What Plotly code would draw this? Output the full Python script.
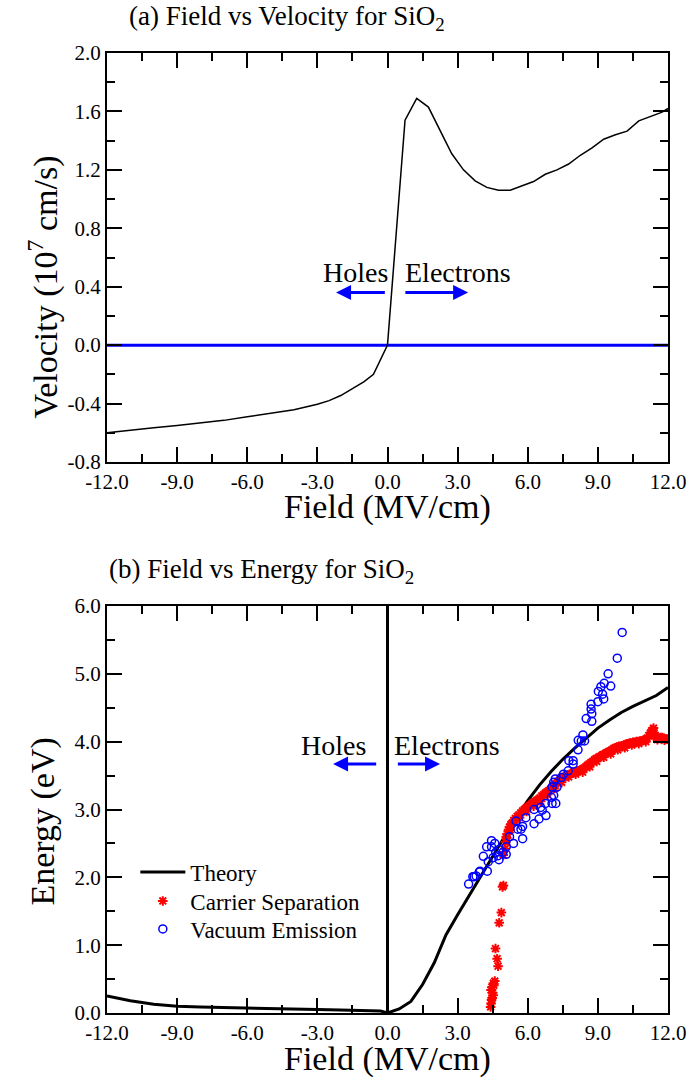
import plotly.graph_objects as go

# ---------------- data ----------------
# (a) velocity vs field
vel_field = [-12.0, -11.5, -11.0, -10.5, -10.0, -9.0, -8.0, -7.0, -6.0, -5.0, -4.0, -3.0, -2.5, -2.0,
             -1.5, -1.0, -0.6, -0.3, 0.0, 0.75, 1.25, 1.75, 2.25, 2.75, 3.25, 3.75, 4.25, 4.75, 5.25,
             5.75, 6.25, 6.75, 7.25, 7.75, 8.25, 8.75, 9.25, 9.75, 10.25, 10.75, 11.25, 11.75, 12.0]
vel_value = [-0.60, -0.59, -0.58, -0.575, -0.565, -0.55, -0.535, -0.515, -0.49, -0.468, -0.443, -0.405, -0.38, -0.345,
             -0.30, -0.25, -0.20, -0.10, 0.0, 1.54, 1.69, 1.63, 1.47, 1.31, 1.20, 1.125, 1.08, 1.06, 1.06,
             1.09, 1.12, 1.17, 1.20, 1.24, 1.30, 1.35, 1.41, 1.44, 1.465, 1.535, 1.565, 1.595, 1.62]
zero_field = [-12.0, 12.0]
zero_value = [0.0, 0.0]

# (b) energy vs field : theory
th_field = [-12, -11, -10, -9, -8, -7, -6, -5, -4, -3, -2, -1, -0.3, 0, 0.5, 1.0, 1.5, 2.0, 2.5, 3.0,
            3.5, 4.0, 4.5, 5.0, 5.5, 6.0, 6.5, 7.0, 7.5, 8.0, 8.5, 9.0, 9.5, 10.0, 10.5, 11.0, 11.5, 12.0]
th_energy = [0.25, 0.18, 0.13, 0.10, 0.09, 0.08, 0.07, 0.065, 0.06, 0.05, 0.045, 0.04, 0.03, 0.0, 0.06, 0.17,
             0.42, 0.74, 1.15, 1.45, 1.74, 2.02, 2.31, 2.6, 2.88, 3.13, 3.36, 3.56, 3.74, 3.9, 4.05, 4.2,
             4.32, 4.43, 4.52, 4.6, 4.68, 4.8]
divider_field = [0.0, 0.0]
divider_energy = [0.0, 6.0]

# carrier separation (red asterisks)
cs_field = [4.41, 4.45, 4.43, 4.52, 4.48, 4.43, 4.50, 4.55, 4.47, 4.53, 4.59, 4.73, 4.69, 4.62, 4.78, 4.87,
            4.92, 4.96,
            4.95, 5.02, 5.05, 5.08, 5.12, 5.18, 5.22, 5.28, 5.33, 5.40, 5.47, 5.55, 5.62, 5.70, 5.78, 5.85,
            5.92, 6.00, 6.08, 6.15, 6.22, 6.30, 6.38, 6.45, 6.52, 6.60, 6.68, 6.75, 6.82, 6.90, 6.98, 7.05,
            7.12, 7.20, 7.28, 7.35, 7.42, 7.50, 7.58, 7.65, 7.72, 7.80, 7.88, 7.95, 8.02, 8.10, 8.18, 8.25,
            8.32, 8.40, 8.48, 8.55, 8.62, 8.70, 8.78, 8.85, 8.92, 9.00, 9.08, 9.15, 9.22, 9.30, 9.38, 9.45,
            9.52, 9.60, 9.68, 9.75, 9.82, 9.90, 9.98, 10.05, 10.12, 10.20, 10.28, 10.35, 10.42, 10.50, 10.58,
            10.65, 10.72, 10.80, 10.88, 10.95, 11.02, 11.10, 11.18, 11.25, 11.30, 11.35, 11.40, 11.45, 11.52,
            11.60, 11.68, 11.75, 11.82, 11.90, 11.97,
            5.10, 5.25, 5.45, 5.65, 5.95, 6.25, 6.55, 6.85, 7.15, 7.45, 7.75, 8.05, 8.35, 8.65, 8.95, 9.25,
            9.55, 9.85, 10.15, 10.45, 10.75, 11.05, 11.28, 11.38, 11.55, 11.85]
cs_energy = [0.09, 0.19, 0.14, 0.26, 0.22, 0.34, 0.30, 0.41, 0.38, 0.44, 0.47, 0.69, 0.80, 0.95, 1.33, 1.48,
             1.86, 1.88,
             2.33, 2.42, 2.52, 2.60, 2.64, 2.70, 2.74, 2.78, 2.80, 2.84, 2.87, 2.90, 2.92, 2.95, 2.98, 3.00,
             3.02, 3.04, 3.06, 3.08, 3.10, 3.12, 3.13, 3.15, 3.17, 3.20, 3.22, 3.24, 3.26, 3.28, 3.30, 3.33,
             3.36, 3.38, 3.40, 3.43, 3.45, 3.47, 3.48, 3.50, 3.51, 3.52, 3.53, 3.55, 3.55, 3.56, 3.57, 3.58,
             3.59, 3.61, 3.63, 3.65, 3.67, 3.69, 3.71, 3.73, 3.75, 3.76, 3.78, 3.79, 3.81, 3.82, 3.84, 3.85,
             3.86, 3.88, 3.90, 3.91, 3.92, 3.93, 3.93, 3.94, 3.95, 3.96, 3.97, 3.98, 3.98, 3.99, 3.99,
             4.00, 4.00, 4.01, 4.01, 4.02, 4.03, 4.05, 4.09, 4.13, 4.16, 4.17, 4.13, 4.09, 4.06,
             4.05, 4.06, 4.06, 4.05, 4.04, 4.04,
             2.58, 2.70, 2.82, 2.88, 2.97, 3.05, 3.12, 3.22, 3.31, 3.40, 3.48, 3.52, 3.55, 3.63, 3.71, 3.77,
             3.82, 3.88, 3.91, 3.95, 3.97, 4.00, 4.10, 4.20, 4.03, 4.02]

# vacuum emission (blue open circles)
ve_field = [10.04, 9.83, 9.44, 9.27, 9.13, 9.55, 9.02, 9.20, 9.25, 9.00, 8.71, 8.71, 8.74, 8.50, 8.74,
            8.16, 8.36, 8.43, 8.29, 8.15, 7.94, 7.76, 7.94, 7.73, 7.53, 7.43, 7.18, 7.11, 7.04, 7.25,
            7.11, 7.01, 7.04, 7.20, 6.76, 6.55, 6.27, 6.62, 6.78, 6.48, 6.27, 5.92, 5.78, 5.78, 5.71,
            5.50, 5.57, 5.39, 5.22, 5.08, 5.08, 4.94, 4.77, 4.77, 4.63, 4.52, 4.45, 4.45, 4.24, 4.10,
            4.31, 3.96, 3.79, 3.65, 3.47, 4.27, 4.59, 4.73, 3.71, 3.93]
ve_energy = [5.61, 5.23, 5.00, 4.86, 4.81, 4.82, 4.74, 4.70, 4.63, 4.59, 4.55, 4.48, 4.41, 4.34, 4.30,
             4.02, 4.10, 4.01, 4.01, 3.88, 3.72, 3.72, 3.67, 3.57, 3.52, 3.47, 3.45, 3.40, 3.33, 3.33,
             3.21, 3.18, 3.09, 3.09, 3.09, 3.03, 3.00, 2.99, 2.91, 2.86, 2.79, 2.88, 2.75, 2.57, 2.71,
             2.83, 2.71, 2.50, 2.60, 2.45, 2.34, 2.37, 2.26, 2.41, 2.37, 2.29, 2.45, 2.54, 2.45, 2.31,
             2.23, 2.09, 2.02, 2.01, 1.90, 2.09, 2.50, 2.32, 2.01, 2.08]

# tick labels
field_ticks = [-12, -9, -6, -3, 0, 3, 6, 9, 12]
field_labels = ["-12.0", "-9.0", "-6.0", "-3.0", "0.0", "3.0", "6.0", "9.0", "12.0"]
vel_ticks = [-0.8, -0.4, 0.0, 0.4, 0.8, 1.2, 1.6, 2.0]
vel_labels = ["-0.8", "-0.4", "0.0", "0.4", "0.8", "1.2", "1.6", "2.0"]
en_ticks = [0, 1, 2, 3, 4, 5, 6]
en_labels = ["0.0", "1.0", "2.0", "3.0", "4.0", "5.0", "6.0"]

# ---------------- figure ----------------
FONT = "Liberation Serif"
fig = go.Figure()

fig.add_trace(go.Scatter(x=zero_field, y=zero_value, mode="lines", line=dict(color="#0000ff", width=3),
                         showlegend=False, xaxis="x", yaxis="y"))
fig.add_trace(go.Scatter(x=vel_field, y=vel_value, mode="lines", line=dict(color="black", width=1.5),
                         showlegend=False, xaxis="x", yaxis="y"))

fig.add_trace(go.Scatter(x=th_field, y=th_energy, mode="lines", name="Theory", legend="legend",
                         line=dict(color="black", width=3), xaxis="x2", yaxis="y2"))
fig.add_trace(go.Scatter(x=divider_field, y=divider_energy, mode="lines", showlegend=False,
                         line=dict(color="black", width=3), xaxis="x2", yaxis="y2"))
fig.add_trace(go.Scatter(x=cs_field, y=cs_energy, mode="markers", name="Carrier Separation", legend="legend2",
                         marker=dict(symbol="asterisk-open", size=8, color="#ff0000",
                                     line=dict(color="#ff0000", width=2)),
                         xaxis="x2", yaxis="y2"))
fig.add_trace(go.Scatter(x=ve_field, y=ve_energy, mode="markers", name="Vacuum Emission", legend="legend3",
                         marker=dict(symbol="circle-open", size=8, color="#0000ff",
                                     line=dict(color="#0000ff", width=1.5)),
                         xaxis="x2", yaxis="y2"))

tickfont = dict(family=FONT, size=21, color="black")
common_x = dict(range=[-12, 12], tickmode="array", tickvals=field_ticks, ticktext=field_labels,
                ticks="inside", ticklen=15, tickwidth=2, tickcolor="black", mirror="allticks",
                showline=True, linewidth=2, linecolor="black", showgrid=False, zeroline=False,
                tickfont=tickfont,
                minor=dict(tick0=-12, dtick=1.5, ticks="inside", ticklen=8, tickwidth=2, tickcolor="black",
                           showgrid=False))
common_y = dict(ticks="inside", ticklen=15, tickwidth=2, tickcolor="black", mirror="allticks",
                showline=True, linewidth=2, linecolor="black", showgrid=False, zeroline=False,
                tickfont=tickfont, tickmode="array")

top_dom = [1 - 409 / 960, 1.0]
bot_dom = [0.0, 407 / 960]

legend_common = dict(x=0.0505, xanchor="left", yanchor="middle", bgcolor="rgba(0,0,0,0)",
                     font=dict(family=FONT, size=23, color="black"), itemwidth=45)

fig.update_layout(
    width=698, height=1078,
    margin=dict(l=107, r=25, t=53, b=65),
    paper_bgcolor="white", plot_bgcolor="white",
    font=dict(family=FONT, color="black"),
    xaxis=dict(domain=[0, 1], anchor="y", **common_x),
    yaxis=dict(domain=top_dom, anchor="x", range=[-0.8, 2.0], tickvals=vel_ticks, ticktext=vel_labels,
               minor=dict(tick0=-0.8, dtick=0.2, ticks="inside", ticklen=8, tickwidth=2,
                          tickcolor="black", showgrid=False), **common_y),
    xaxis2=dict(domain=[0, 1], anchor="y2", **common_x),
    yaxis2=dict(domain=bot_dom, anchor="x2", range=[0, 6], tickvals=en_ticks, ticktext=en_labels,
                minor=dict(tick0=0, dtick=0.5, ticks="inside", ticklen=8, tickwidth=2,
                           tickcolor="black", showgrid=False), **common_y),
    legend=dict(y=(1013 - 872) / 960, **legend_common),
    legend2=dict(y=(1013 - 901) / 960, **legend_common),
    legend3=dict(y=(1013 - 929) / 960, **legend_common),
    showlegend=True,
)

ann = []
title_font = dict(family=FONT, size=27, color="black")
axis_font = dict(family=FONT, size=34, color="black")
label_font = dict(family=FONT, size=28, color="black")
ann.append(dict(text="(a) Field vs Velocity for SiO<sub>2</sub>", xref="paper", yref="paper",
                x=(127 - 107) / 566, y=(1013 - 18) / 960, xanchor="left", yanchor="middle", showarrow=False,
                font=title_font))
ann.append(dict(text="(b) Field vs Energy for SiO<sub>2</sub>", xref="paper", yref="paper",
                x=0.0, y=(1013 - 571) / 960, xanchor="left", yanchor="middle", showarrow=False, font=title_font))
ann.append(dict(text="Field (MV/cm)", xref="paper", yref="paper", x=0.5, y=(1013 - 507) / 960,
                xanchor="center", yanchor="middle", showarrow=False, font=axis_font))
ann.append(dict(text="Field (MV/cm)", xref="paper", yref="paper", x=0.5, y=(1013 - 1059) / 960,
                xanchor="center", yanchor="middle", showarrow=False, font=axis_font))
ann.append(dict(text="Velocity (10<sup>7</sup> cm/s)", xref="paper", yref="paper", x=(42 - 107) / 566,
                y=(1013 - 287) / 960, xanchor="center", yanchor="middle", textangle=-90, showarrow=False,
                font=axis_font))
ann.append(dict(text="Energy (eV)", xref="paper", yref="paper", x=(42 - 107) / 566,
                y=(1013 - 822) / 960, xanchor="center", yanchor="middle", textangle=-90, showarrow=False,
                font=axis_font))
# Holes / Electrons labels and arrows
ann.append(dict(text="Holes", xref="x", yref="y", x=-1.35, y=0.50, showarrow=False, font=label_font))
ann.append(dict(text="Electrons", xref="x", yref="y", x=3.0, y=0.50, showarrow=False, font=label_font))
ann.append(dict(text="", xref="x", yref="y", axref="x", ayref="y", x=-2.2, y=0.36, ax=-0.05, ay=0.36,
                showarrow=True, arrowhead=2, arrowsize=1, arrowwidth=3, arrowcolor="#0000ff"))
ann.append(dict(text="", xref="x", yref="y", axref="x", ayref="y", x=3.45, y=0.36, ax=0.7, ay=0.36,
                showarrow=True, arrowhead=2, arrowsize=1, arrowwidth=3, arrowcolor="#0000ff"))
ann.append(dict(text="Holes", xref="x2", yref="y2", x=-2.29, y=3.94, showarrow=False, font=label_font))
ann.append(dict(text="Electrons", xref="x2", yref="y2", x=2.54, y=3.94, showarrow=False, font=label_font))
ann.append(dict(text="", xref="x2", yref="y2", axref="x2", ayref="y2", x=-2.33, y=3.67, ax=-0.42, ay=3.67,
                showarrow=True, arrowhead=2, arrowsize=1, arrowwidth=3, arrowcolor="#0000ff"))
ann.append(dict(text="", xref="x2", yref="y2", axref="x2", ayref="y2", x=2.25, y=3.67, ax=0.38, ay=3.67,
                showarrow=True, arrowhead=2, arrowsize=1, arrowwidth=3, arrowcolor="#0000ff"))
fig.update_layout(annotations=ann)

fig.write_html("out.html")
